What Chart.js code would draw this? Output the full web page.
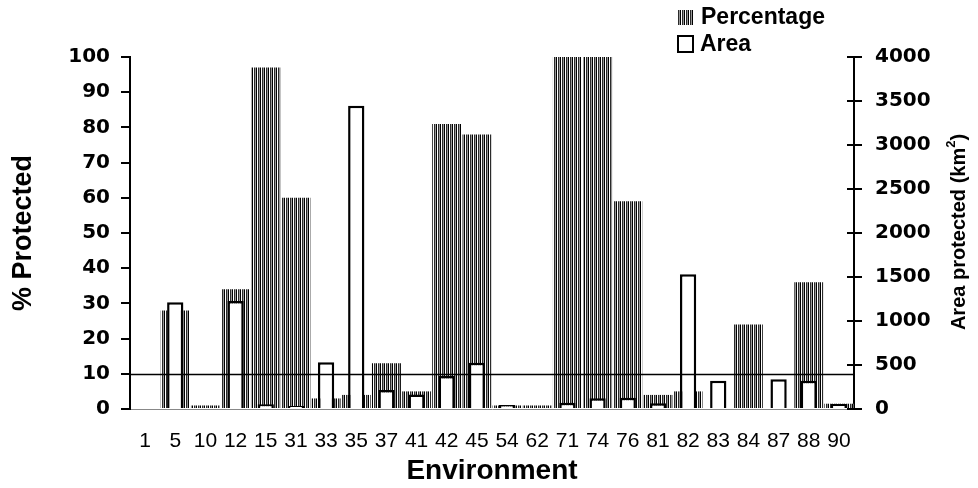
<!DOCTYPE html>
<html>
<head>
<meta charset="utf-8">
<script src="https://cdn.jsdelivr.net/npm/chart.js@4"></script>
<style>
  html, body { margin: 0; padding: 0; background: #fff; }
  #wrap { width: 978px; height: 488px; position: relative; }
</style>
</head>
<body>
<div id="wrap"><canvas id="myChart" width="978" height="488"></canvas></div>
<script>
const environments = ["1", "5", "10", "12", "15", "31", "33", "35", "37", "41", "42", "45",
  "54", "62", "71", "74", "76", "81", "82", "83", "84", "87", "88", "90"];
const percentage = [0, 28, 1, 34, 97, 60, 3, 4, 13, 5, 81, 78,
  1, 1, 100, 100, 59, 4, 5, 0, 24, 0, 36, 1.5];
const area = [0, 1212, 0, 1227, 53, 34, 532, 3447, 216, 165, 375, 526,
  45, 0, 72, 121, 129, 65, 1530, 322, 0, 337, 322, 57];
const percentTicks = [0, 10, 20, 30, 40, 50, 60, 70, 80, 90, 100];
const areaTicks = [0, 500, 1000, 1500, 2000, 2500, 3000, 3500, 4000];
const thresholdLine = 10;

// hatch like the scanned vertical lines
function makeHatch(ctx) {
  const c = document.createElement("canvas");
  c.width = 4;
  c.height = 4;
  const p = c.getContext("2d");
  const cols = ["#000", "#fff", "#2a2a2a", "#999"];
  for (let i = 0; i < 4; i++) {
    p.fillStyle = cols[i];
    p.fillRect(i, 0, 1, 4);
  }
  return ctx.createPattern(c, "repeat");
}

const ctx = document.getElementById("myChart");
const hatch = makeHatch(ctx.getContext("2d"));

const extras = {
  id: "extras",
  afterDatasetsDraw(chart) {
    const c = chart.ctx;
    const a = chart.chartArea;
    const y = chart.scales.y;
    const y1 = chart.scales.y1;
    c.save();
    // 10% line
    const ly = Math.round(y.getPixelForValue(thresholdLine)) + 0.5;
    c.strokeStyle = "#000";
    c.lineWidth = 1.5;
    c.beginPath();
    c.moveTo(a.left, ly);
    c.lineTo(a.right, ly);
    c.stroke();
    // inner half of the right axis ticks
    c.lineWidth = 2;
    areaTicks.forEach(v => {
      const ty = y1.getPixelForValue(v);
      c.beginPath();
      c.moveTo(a.right - 7, ty);
      c.lineTo(a.right, ty);
      c.stroke();
    });
    c.restore();
  },
  afterDraw(chart) {
    const c = chart.ctx;
    c.save();
    // legend
    c.fillStyle = hatch;
    c.fillRect(677, 10, 16, 15);
    c.strokeStyle = "#000";
    c.lineWidth = 2;
    c.strokeRect(678, 36, 15, 16);
    c.fillStyle = "#000";
    c.font = "bold 23px 'Liberation Sans', Arial, sans-serif";
    c.textBaseline = "middle";
    c.fillText("Percentage", 701, 18);
    c.fillText("Area", 700, 45);
    // right axis title, reads bottom to top
    c.translate(959, 232);
    c.rotate(-Math.PI / 2);
    c.font = "bold 20px 'Liberation Sans', Arial, sans-serif";
    const t1 = "Area protected (km";
    const w1 = c.measureText(t1).width;
    c.font = "bold 13px 'Liberation Sans', Arial, sans-serif";
    const w2 = c.measureText("2").width;
    c.font = "bold 20px 'Liberation Sans', Arial, sans-serif";
    const w3 = c.measureText(")").width;
    let x = -(w1 + w2 + w3) / 2;
    c.textAlign = "left";
    c.fillText(t1, x, 0);
    x += w1;
    c.font = "bold 13px 'Liberation Sans', Arial, sans-serif";
    c.fillText("2", x, -8);
    x += w2;
    c.font = "bold 20px 'Liberation Sans', Arial, sans-serif";
    c.fillText(")", x, 0);
    c.restore();
  }
};

new Chart(ctx, {
  type: "bar",
  data: {
    labels: environments,
    datasets: [
      {
        label: "Area",
        data: area,
        yAxisID: "y1",
        backgroundColor: "#fff",
        borderColor: "#000",
        borderWidth: 2.5,
        borderSkipped: "bottom",
        barPercentage: 0.54,
        categoryPercentage: 1,
        grouped: false,
        order: 1,
      },
      {
        label: "Percentage",
        data: percentage,
        yAxisID: "y",
        backgroundColor: hatch,
        borderWidth: 0,
        barPercentage: 1,
        categoryPercentage: 0.96,
        grouped: false,
        order: 2,
      },
    ],
  },
  options: {
    responsive: false,
    animation: false,
    layout: { padding: { top: 57, left: 0, right: 0, bottom: 0 } },
    plugins: {
      legend: { display: false },
      tooltip: { enabled: false },
    },
    scales: {
      x: {
        afterFit: s => { s.height = 79; },
        grid: { display: false, drawTicks: false },
        border: { display: true, color: "#888", width: 1 },
        ticks: {
          autoSkip: false,
          maxRotation: 0,
          padding: 20,
          color: "#000",
          font: { family: "'Liberation Sans', Arial, sans-serif", size: 21 },
        },
        title: {
          display: true,
          text: "Environment",
          color: "#000",
          padding: 0,
          font: { family: "'Liberation Sans', Arial, sans-serif", size: 28, weight: "bold" },
        },
      },
      y: {
        position: "left",
        min: 0,
        max: 100,
        afterFit: s => { s.width = 130; },
        afterBuildTicks: s => { s.ticks = percentTicks.map(v => ({ value: v })); },
        grid: { drawOnChartArea: false, color: "#000", lineWidth: 2, tickLength: 9 },
        border: { display: true, color: "#000", width: 2 },
        ticks: {
          padding: 11,
          color: "#000",
          callback: v => String(v),
          font: { family: "'DejaVu Sans', sans-serif", size: 20, weight: "bold" },
        },
        title: {
          display: true,
          text: "% Protected",
          color: "#000",
          padding: { top: 7, bottom: 0 },
          font: { family: "'Liberation Sans', Arial, sans-serif", size: 27, weight: "bold" },
        },
      },
      y1: {
        position: "right",
        min: 0,
        max: 4000,
        afterFit: s => { s.width = 124; },
        afterBuildTicks: s => { s.ticks = areaTicks.map(v => ({ value: v })); },
        grid: { drawOnChartArea: false, color: "#000", lineWidth: 2, tickLength: 8 },
        border: { display: true, color: "#000", width: 2 },
        ticks: {
          padding: 13,
          color: "#000",
          callback: v => String(v),
          font: { family: "'DejaVu Sans', sans-serif", size: 20, weight: "bold" },
        },
      },
    },
  },
  plugins: [extras],
});
</script>
</body>
</html>
